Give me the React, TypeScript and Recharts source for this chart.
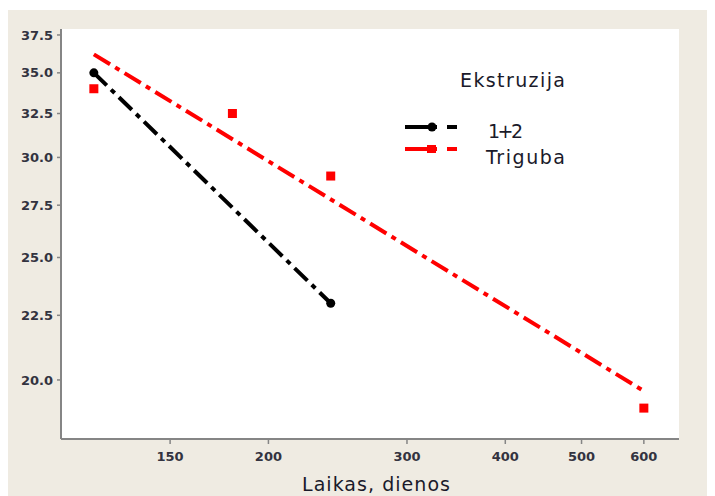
import React from "react";
import { ComposedChart, Line, Scatter, XAxis, YAxis, CartesianGrid } from "recharts";

const xTicks = [150, 200, 300, 400, 500, 600];
const yTicks = [20.0, 22.5, 25.0, 27.5, 30.0, 32.5, 35.0, 37.5];

const blackDays = [120, 240];
const blackValues = [35.0, 23.0];

const redFitDays = [120, 600];
const redFitValues = [36.2, 19.6];

const redDays = [120, 180, 240, 600];
const redValues = [34.0, 32.5, 29.0, 19.0];

const seriesNames = ["1+2", "Triguba"];
const legendTitle = "Ekstruzija";
const xLabel = "Laikas, dienos";

const blackData = blackDays.map((x, i) => ({ x, y: blackValues[i] }));
const redFitData = redFitDays.map((x, i) => ({ x, y: redFitValues[i] }));
const redData = redDays.map((x, i) => ({ x, y: redValues[i] }));

const X_DOMAIN: [number, number] = [109, 665];
const Y_DOMAIN: [number, number] = [17.96, 37.91];
const FONT = "DejaVu Sans, Verdana, sans-serif";
const TEXT = "#333340";
const LABEL = "#1a1a2a";
const FRAME = "#858585";

const SquareShape = (props: any) => {
  const { cx, cy } = props;
  if (cx == null || cy == null) return null;
  return <rect x={cx - 4.5} y={cy - 4.5} width={9} height={9} fill="#ff0000" />;
};

const LegendBox = () => (
  <svg
    width={190}
    height={110}
    style={{ position: "absolute", left: 387, top: 50, overflow: "visible" }}
  >
    <text x={65} y={27} fontFamily={FONT} fontSize={19} fill={LABEL} textLength={105} lengthAdjust="spacing">
      {legendTitle}
    </text>
    <line x1={10} y1={67} x2={42} y2={67} stroke="#000" strokeWidth={4} />
    <circle cx={37} cy={67} r={4.5} fill="#000" />
    <line x1={52} y1={67} x2={62} y2={67} stroke="#000" strokeWidth={4} />
    <text x={93} y={78} fontFamily={FONT} fontSize={19} fill={LABEL} textLength={35} lengthAdjust="spacing">
      {seriesNames[0]}
    </text>
    <line x1={10} y1={89} x2={42} y2={89} stroke="#ff0000" strokeWidth={4} />
    <rect x={32} y={85} width={9} height={8} fill="#ff0000" />
    <line x1={52} y1={89} x2={62} y2={89} stroke="#ff0000" strokeWidth={4} />
    <text x={91} y={104} fontFamily={FONT} fontSize={19} fill={LABEL} textLength={79} lengthAdjust="spacing">
      {seriesNames[1]}
    </text>
  </svg>
);

const XLabel = () => (
  <text x={368} y={481} textAnchor="middle" fontFamily={FONT} fontSize={19} fill={LABEL} textLength={148} lengthAdjust="spacing">
    {xLabel}
  </text>
);

export default function App() {
  return (
    <div style={{ position: "relative", marginTop: 2, width: 707, height: 486, background: "#efebe2" }}>
      <ComposedChart width={707} height={486} margin={{ top: 19, right: 36, left: 0, bottom: 0 }}>
        <CartesianGrid horizontal={false} vertical={false} fill="#ffffff" fillOpacity={1} />
        <XAxis
          xAxisId={0}
          type="number"
          dataKey="x"
          scale="log"
          domain={X_DOMAIN}
          allowDataOverflow
          ticks={xTicks}
          height={57}
          tickSize={5}
          tickMargin={8}
          axisLine={{ stroke: FRAME, strokeWidth: 2 }}
          tickLine={{ stroke: FRAME, strokeWidth: 1.5 }}
          tick={{ fontFamily: FONT, fontSize: 13, fontWeight: "bold", fill: TEXT }}
          label={<XLabel />}
        />
        <XAxis
          xAxisId="top"
          orientation="top"
          type="number"
          scale="log"
          domain={X_DOMAIN}
          allowDataOverflow
          height={0}
          tick={false}
          tickLine={false}
          axisLine={{ stroke: FRAME, strokeWidth: 2 }}
        />
        <YAxis
          yAxisId={0}
          type="number"
          dataKey="y"
          scale="log"
          domain={Y_DOMAIN}
          allowDataOverflow
          ticks={yTicks}
          width={53}
          tickSize={4}
          tickMargin={4}
          tickFormatter={(v: number) => v.toFixed(1)}
          axisLine={{ stroke: FRAME, strokeWidth: 2 }}
          tickLine={{ stroke: FRAME, strokeWidth: 1.5 }}
          tick={{ fontFamily: FONT, fontSize: 13, fontWeight: "bold", fill: TEXT }}
        />
        <YAxis
          yAxisId="right"
          orientation="right"
          type="number"
          scale="log"
          domain={Y_DOMAIN}
          allowDataOverflow
          width={0}
          tick={false}
          tickLine={false}
          axisLine={{ stroke: FRAME, strokeWidth: 2 }}
        />
        <Line
          data={redFitData}
          dataKey="y"
          stroke="#ff0000"
          strokeWidth={4}
          strokeDasharray="19 6 5 6"
          dot={false}
          activeDot={false}
          isAnimationActive={false}
        />
        <Line
          data={blackData}
          dataKey="y"
          stroke="#000000"
          strokeWidth={4}
          strokeDasharray="18 6 5 6"
          dot={{ r: 4.5, fill: "#000", stroke: "none" }}
          activeDot={false}
          isAnimationActive={false}
        />
        <Scatter data={redData} dataKey="y" shape={<SquareShape />} isAnimationActive={false} />
      </ComposedChart>
      <LegendBox />
    </div>
  );
}
